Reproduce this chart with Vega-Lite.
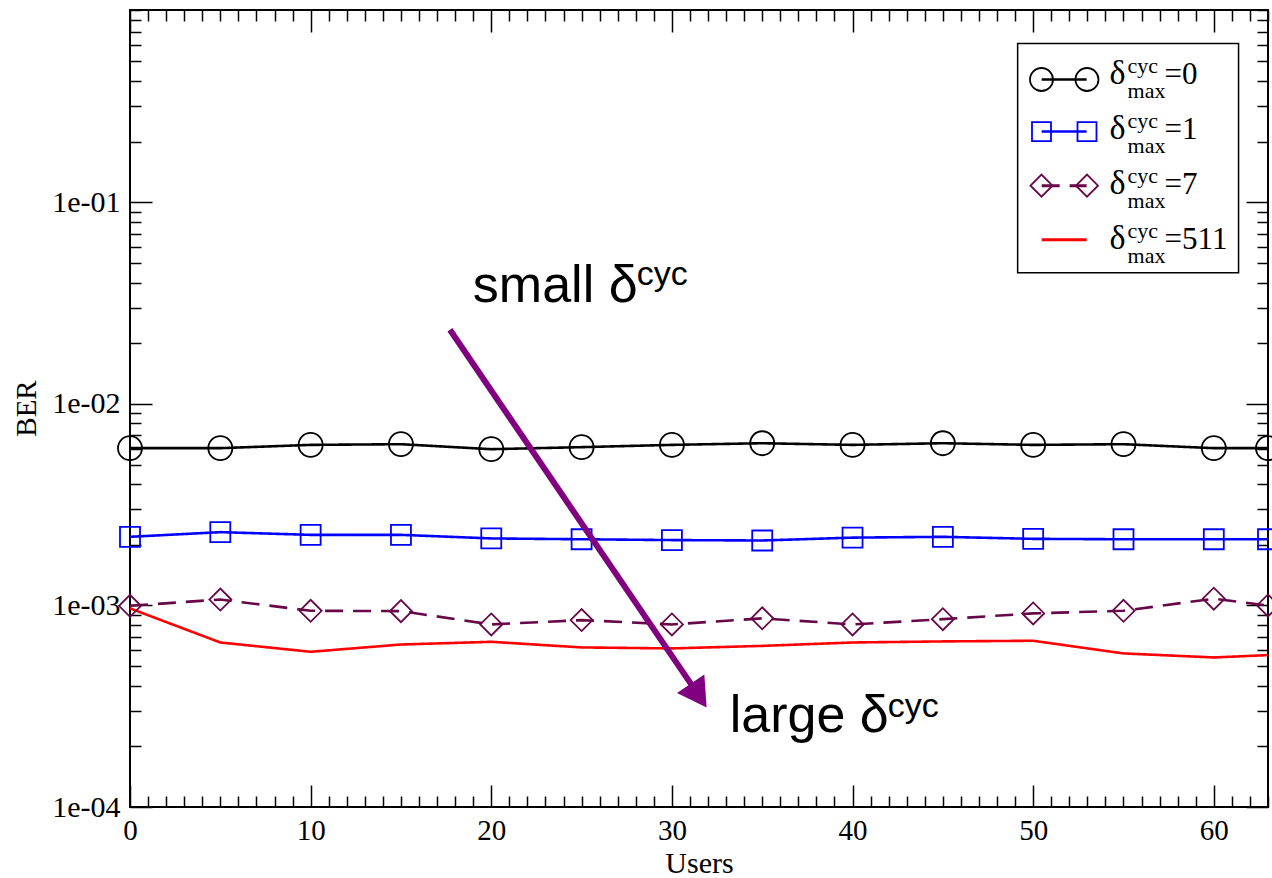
{
  "$schema": "https://vega.github.io/schema/vega-lite/v6.json",
  "width": 1138,
  "height": 797,
  "autosize": {"type": "none"},
  "padding": {"left": 130, "top": 10, "right": 4, "bottom": 71},
  "background": "white",
  "config": {
    "view": {"stroke": "#000", "strokeWidth": 2},
    "axis": {"domain": false, "grid": false, "tickColor": "#000", "tickWidth": 1.5, "labelColor": "#000", "titleColor": "#000", "labelFont": "Liberation Serif", "titleFont": "Liberation Serif", "titleFontWeight": "normal", "labelOverlap": false, "labelFlush": false},
    "text": {"font": "Liberation Serif", "fontSize": 30, "align": "left", "baseline": "alphabetic", "color": "#000"}
  },
  "datasets": {
    "one": [{}],
    "ber": [
      {"users": 0, "ber": 0.00603, "series": "0"}, {"users": 5, "ber": 0.00603, "series": "0"}, {"users": 10, "ber": 0.00626, "series": "0"}, {"users": 15, "ber": 0.00631, "series": "0"}, {"users": 20, "ber": 0.00596, "series": "0"}, {"users": 25, "ber": 0.0061, "series": "0"}, {"users": 30, "ber": 0.00626, "series": "0"}, {"users": 35, "ber": 0.00638, "series": "0"}, {"users": 40, "ber": 0.00626, "series": "0"}, {"users": 45, "ber": 0.00638, "series": "0"}, {"users": 50, "ber": 0.00626, "series": "0"}, {"users": 55, "ber": 0.00631, "series": "0"}, {"users": 60, "ber": 0.00603, "series": "0"}, {"users": 63, "ber": 0.00603, "series": "0"},
      {"users": 0, "ber": 0.00219, "series": "1"}, {"users": 5, "ber": 0.00231, "series": "1"}, {"users": 10, "ber": 0.00224, "series": "1"}, {"users": 15, "ber": 0.00224, "series": "1"}, {"users": 20, "ber": 0.00215, "series": "1"}, {"users": 25, "ber": 0.00213, "series": "1"}, {"users": 30, "ber": 0.00211, "series": "1"}, {"users": 35, "ber": 0.0021, "series": "1"}, {"users": 40, "ber": 0.00217, "series": "1"}, {"users": 45, "ber": 0.00219, "series": "1"}, {"users": 50, "ber": 0.00214, "series": "1"}, {"users": 55, "ber": 0.00213, "series": "1"}, {"users": 60, "ber": 0.00213, "series": "1"}, {"users": 63, "ber": 0.00213, "series": "1"},
      {"users": 0, "ber": 0.000996, "series": "7"}, {"users": 5, "ber": 0.00107, "series": "7"}, {"users": 10, "ber": 0.000941, "series": "7"}, {"users": 15, "ber": 0.000937, "series": "7"}, {"users": 20, "ber": 0.000805, "series": "7"}, {"users": 25, "ber": 0.000846, "series": "7"}, {"users": 30, "ber": 0.000805, "series": "7"}, {"users": 35, "ber": 0.000863, "series": "7"}, {"users": 40, "ber": 0.000805, "series": "7"}, {"users": 45, "ber": 0.000855, "series": "7"}, {"users": 50, "ber": 0.000913, "series": "7"}, {"users": 55, "ber": 0.000941, "series": "7"}, {"users": 60, "ber": 0.00108, "series": "7"}, {"users": 63, "ber": 0.001, "series": "7"},
      {"users": 0, "ber": 0.000967, "series": "511"}, {"users": 5, "ber": 0.000655, "series": "511"}, {"users": 10, "ber": 0.000589, "series": "511"}, {"users": 15, "ber": 0.00064, "series": "511"}, {"users": 20, "ber": 0.00066, "series": "511"}, {"users": 25, "ber": 0.000619, "series": "511"}, {"users": 30, "ber": 0.000612, "series": "511"}, {"users": 35, "ber": 0.00063, "series": "511"}, {"users": 40, "ber": 0.000655, "series": "511"}, {"users": 45, "ber": 0.000663, "series": "511"}, {"users": 50, "ber": 0.000668, "series": "511"}, {"users": 55, "ber": 0.000578, "series": "511"}, {"users": 60, "ber": 0.000552, "series": "511"}, {"users": 63, "ber": 0.000567, "series": "511"}
    ]
  },
  "data": {"name": "one"},
  "resolve": {"axis": {"x": "independent", "y": "independent"}},
  "layer": [
    {
      "data": {"name": "ber"},
      "mark": {"type": "line", "strokeWidth": 2.6},
      "encoding": {
        "x": {"field": "users", "type": "quantitative", "scale": {"domain": [0, 63], "nice": false, "zero": false},
          "axis": {"orient": "bottom", "values": [0,1,2,3,4,5,6,7,8,9,10,11,12,13,14,15,16,17,18,19,20,21,22,23,24,25,26,27,28,29,30,31,32,33,34,35,36,37,38,39,40,41,42,43,44,45,46,47,48,49,50,51,52,53,54,55,56,57,58,59,60,61,62,63],
            "tickSize": {"condition": {"test": "datum.value % 10 == 0", "value": -22}, "value": -11},
            "labelExpr": "datum.value % 10 == 0 ? datum.label : ''",
            "labelPadding": 31, "labelFontSize": 29,
            "title": "Users", "titleFontSize": 30, "titleX": 569, "titleY": 65, "titleBaseline": "alphabetic"}},
        "y": {"field": "ber", "type": "quantitative", "scale": {"type": "log", "domain": [0.0001, 0.9], "nice": false},
          "axis": {"orient": "left", "values": [0.0001,0.0002,0.0003,0.0004,0.0005,0.0006,0.0007,0.0008,0.0009,0.001,0.002,0.003,0.004,0.005,0.006,0.007,0.008,0.009,0.01,0.02,0.03,0.04,0.05,0.06,0.07,0.08,0.09,0.1,0.2,0.3,0.4,0.5,0.6,0.7,0.8,0.9],
            "tickSize": {"condition": {"test": "abs(log(datum.value)/LN10 - round(log(datum.value)/LN10)) < 0.000001", "value": -22}, "value": -11},
            "labelExpr": "abs(log(datum.value)/LN10 - round(log(datum.value)/LN10)) < 0.000001 ? '1e-0' + (-round(log(datum.value)/LN10)) : ''",
            "labelPadding": 32, "labelFontSize": 30,
            "title": "BER", "titleFontSize": 29, "titleX": -95, "titleY": 398, "titleAngle": -90, "titleBaseline": "alphabetic"}},
        "color": {"field": "series", "type": "nominal", "scale": {"domain": ["0", "1", "7", "511"], "range": ["#000000", "#0000ff", "#670748", "#ff0000"]}, "legend": null},
        "strokeDash": {"field": "series", "type": "nominal", "scale": {"domain": ["0", "1", "7", "511"], "range": [[1, 0], [1, 0], [18, 10], [1, 0]]}, "legend": null}
      }
    },
    {
      "data": {"name": "ber"},
      "transform": [{"filter": "datum.series != '511'"}],
      "mark": {"type": "point", "filled": false, "strokeWidth": 1.8, "opacity": 1, "size": 576},
      "encoding": {
        "x": {"field": "users", "type": "quantitative",
          "axis": {"orient": "top", "values": [0,1,2,3,4,5,6,7,8,9,10,11,12,13,14,15,16,17,18,19,20,21,22,23,24,25,26,27,28,29,30,31,32,33,34,35,36,37,38,39,40,41,42,43,44,45,46,47,48,49,50,51,52,53,54,55,56,57,58,59,60,61,62,63],
            "tickSize": {"condition": {"test": "datum.value % 10 == 0", "value": -22}, "value": -11},
            "labels": false, "title": null}},
        "y": {"field": "ber", "type": "quantitative",
          "axis": {"orient": "right", "values": [0.0001,0.0002,0.0003,0.0004,0.0005,0.0006,0.0007,0.0008,0.0009,0.001,0.002,0.003,0.004,0.005,0.006,0.007,0.008,0.009,0.01,0.02,0.03,0.04,0.05,0.06,0.07,0.08,0.09,0.1,0.2,0.3,0.4,0.5,0.6,0.7,0.8,0.9],
            "tickSize": {"condition": {"test": "abs(log(datum.value)/LN10 - round(log(datum.value)/LN10)) < 0.000001", "value": -22}, "value": -11},
            "labels": false, "title": null}},
        "color": {"field": "series", "type": "nominal", "scale": {"domain": ["0", "1", "7", "511"], "range": ["#000000", "#0000ff", "#670748", "#ff0000"]}, "legend": null},
        "shape": {"field": "series", "type": "nominal", "scale": {"domain": ["0", "1", "7"], "range": ["circle", "M-0.833,-0.833H0.833V0.833H-0.833Z", "M-0.917,0L0,-0.917L0.917,0L0,0.917Z"]}, "legend": null}
      }
    },
    {
      "mark": {"type": "rule", "color": "#800080", "strokeWidth": 6},
      "encoding": {"x": {"datum": 17.71, "type": "quantitative", "axis": null}, "x2": {"datum": 31.1}, "y": {"datum": 0.02331, "type": "quantitative", "axis": null}, "y2": {"datum": 0.0004022}}
    },
    {
      "mark": {"type": "point", "shape": "triangle-up", "angle": 146, "size": 1089, "filled": true, "color": "#800080", "opacity": 1},
      "encoding": {"x": {"datum": 31.48, "type": "quantitative", "axis": null}, "y": {"datum": 0.0003571, "type": "quantitative", "axis": null}}
    },
    {
      "mark": {"type": "text", "text": "small δ", "font": "Liberation Sans", "fontSize": 52},
      "encoding": {"x": {"datum": 18.98, "type": "quantitative", "axis": null}, "y": {"datum": 0.03212, "type": "quantitative", "axis": null}}
    },
    {
      "mark": {"type": "text", "text": "cyc", "font": "Liberation Sans", "fontSize": 34, "dx": 164, "dy": -17},
      "encoding": {"x": {"datum": 18.98, "type": "quantitative", "axis": null}, "y": {"datum": 0.03212, "type": "quantitative", "axis": null}}
    },
    {
      "mark": {"type": "text", "text": "large δ", "font": "Liberation Sans", "fontSize": 52},
      "encoding": {"x": {"datum": 33.2, "type": "quantitative", "axis": null}, "y": {"datum": 0.000235, "type": "quantitative", "axis": null}}
    },
    {
      "mark": {"type": "text", "text": "cyc", "font": "Liberation Sans", "fontSize": 34, "dx": 158, "dy": -15},
      "encoding": {"x": {"datum": 33.2, "type": "quantitative", "axis": null}, "y": {"datum": 0.000235, "type": "quantitative", "axis": null}}
    },
    {
      "mark": {"type": "rect", "fill": "white", "stroke": "#000", "strokeWidth": 1.5},
      "encoding": {"x": {"datum": 49.14, "type": "quantitative", "axis": null}, "x2": {"datum": 61.37}, "y": {"datum": 0.6142, "type": "quantitative", "axis": null}, "y2": {"datum": 0.04477}}
    },
    {
      "mark": {"type": "rule", "color": "#000", "strokeWidth": 2.6},
      "encoding": {"x": {"datum": 50.47, "type": "quantitative", "axis": null}, "x2": {"datum": 52.96}, "y": {"datum": 0.4069, "type": "quantitative", "axis": null}}
    },
    {
      "mark": {"type": "point", "shape": "M-0.978,0C-0.978,0.552,-1.426,1,-1.978,1C-2.53,1,-2.978,0.552,-2.978,0C-2.978,-0.552,-2.53,-1,-1.978,-1C-1.426,-1,-0.978,-0.552,-0.978,0ZM2.978,0C2.978,0.552,2.53,1,1.978,1C1.426,1,0.978,0.552,0.978,0C0.978,-0.552,1.426,-1,1.978,-1C2.53,-1,2.978,-0.552,2.978,0Z", "size": 529, "filled": false, "color": "#000", "strokeWidth": 1.8, "opacity": 1},
      "encoding": {"x": {"datum": 51.72, "type": "quantitative", "axis": null}, "y": {"datum": 0.4069, "type": "quantitative", "axis": null}}
    },
    {
      "mark": {"type": "rule", "color": "#0000ff", "strokeWidth": 2.6},
      "encoding": {"x": {"datum": 50.47, "type": "quantitative", "axis": null}, "x2": {"datum": 52.96}, "y": {"datum": 0.2245, "type": "quantitative", "axis": null}}
    },
    {
      "mark": {"type": "point", "shape": "M-3.395,-1H-1.395V1H-3.395ZM1.395,-1H3.395V1H1.395Z", "size": 361, "filled": false, "color": "#0000ff", "strokeWidth": 1.8, "opacity": 1},
      "encoding": {"x": {"datum": 51.72, "type": "quantitative", "axis": null}, "y": {"datum": 0.2245, "type": "quantitative", "axis": null}}
    },
    {
      "mark": {"type": "rule", "color": "#670748", "strokeWidth": 3, "strokeDash": [18, 10]},
      "encoding": {"x": {"datum": 50.47, "type": "quantitative", "axis": null}, "x2": {"datum": 52.96}, "y": {"datum": 0.121, "type": "quantitative", "axis": null}}
    },
    {
      "mark": {"type": "point", "shape": "M-3.068,0L-2.068,-1L-1.068,0L-2.068,1ZM1.068,0L2.068,-1L3.068,0L2.068,1Z", "size": 484, "filled": false, "color": "#670748", "strokeWidth": 1.8, "opacity": 1},
      "encoding": {"x": {"datum": 51.72, "type": "quantitative", "axis": null}, "y": {"datum": 0.121, "type": "quantitative", "axis": null}}
    },
    {
      "mark": {"type": "rule", "color": "#ff0000", "strokeWidth": 3},
      "encoding": {"x": {"datum": 50.47, "type": "quantitative", "axis": null}, "x2": {"datum": 52.96}, "y": {"datum": 0.06528, "type": "quantitative", "axis": null}}
    },
    {"mark": {"type": "text", "text": "δ", "fontSize": 34}, "encoding": {"x": {"datum": 54.23, "type": "quantitative", "axis": null}, "y": {"datum": 0.3843, "type": "quantitative", "axis": null}}},
    {"mark": {"type": "text", "text": ["cyc", "max"], "fontSize": 22, "lineHeight": 25, "dx": 18, "dy": -11}, "encoding": {"x": {"datum": 54.23, "type": "quantitative", "axis": null}, "y": {"datum": 0.3843, "type": "quantitative", "axis": null}}},
    {"mark": {"type": "text", "text": "=0", "dx": 55, "fontSize": 31}, "encoding": {"x": {"datum": 54.23, "type": "quantitative", "axis": null}, "y": {"datum": 0.3843, "type": "quantitative", "axis": null}}},
    {"mark": {"type": "text", "text": "δ", "fontSize": 34}, "encoding": {"x": {"datum": 54.23, "type": "quantitative", "axis": null}, "y": {"datum": 0.2072, "type": "quantitative", "axis": null}}},
    {"mark": {"type": "text", "text": ["cyc", "max"], "fontSize": 22, "lineHeight": 25, "dx": 18, "dy": -11}, "encoding": {"x": {"datum": 54.23, "type": "quantitative", "axis": null}, "y": {"datum": 0.2072, "type": "quantitative", "axis": null}}},
    {"mark": {"type": "text", "text": "=1", "dx": 55, "fontSize": 31}, "encoding": {"x": {"datum": 54.23, "type": "quantitative", "axis": null}, "y": {"datum": 0.2072, "type": "quantitative", "axis": null}}},
    {"mark": {"type": "text", "text": "δ", "fontSize": 34}, "encoding": {"x": {"datum": 54.23, "type": "quantitative", "axis": null}, "y": {"datum": 0.1104, "type": "quantitative", "axis": null}}},
    {"mark": {"type": "text", "text": ["cyc", "max"], "fontSize": 22, "lineHeight": 25, "dx": 18, "dy": -11}, "encoding": {"x": {"datum": 54.23, "type": "quantitative", "axis": null}, "y": {"datum": 0.1104, "type": "quantitative", "axis": null}}},
    {"mark": {"type": "text", "text": "=7", "dx": 55, "fontSize": 31}, "encoding": {"x": {"datum": 54.23, "type": "quantitative", "axis": null}, "y": {"datum": 0.1104, "type": "quantitative", "axis": null}}},
    {"mark": {"type": "text", "text": "δ", "fontSize": 34}, "encoding": {"x": {"datum": 54.23, "type": "quantitative", "axis": null}, "y": {"datum": 0.05888, "type": "quantitative", "axis": null}}},
    {"mark": {"type": "text", "text": ["cyc", "max"], "fontSize": 22, "lineHeight": 25, "dx": 18, "dy": -11}, "encoding": {"x": {"datum": 54.23, "type": "quantitative", "axis": null}, "y": {"datum": 0.05888, "type": "quantitative", "axis": null}}},
    {"mark": {"type": "text", "text": "=511", "dx": 55, "fontSize": 31}, "encoding": {"x": {"datum": 54.23, "type": "quantitative", "axis": null}, "y": {"datum": 0.05888, "type": "quantitative", "axis": null}}}
  ]
}
